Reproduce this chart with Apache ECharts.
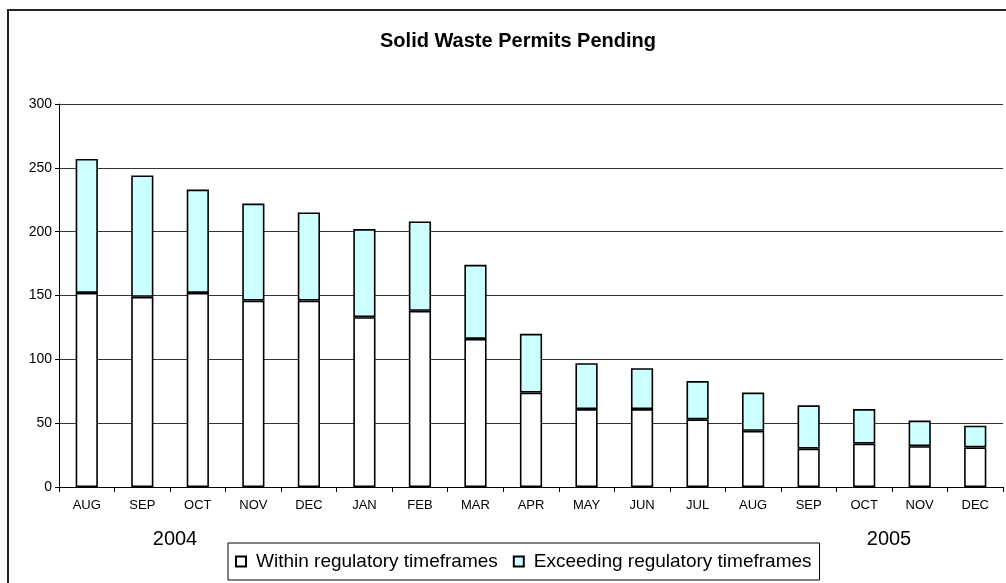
<!DOCTYPE html>
<html>
<head>
<meta charset="utf-8">
<script src="https://cdn.jsdelivr.net/npm/echarts@6/dist/echarts.min.js"></script>
<style>
  html, body { margin: 0; padding: 0; background: #fff; }
  #chart { width: 1006px; height: 583px; }
</style>
</head>
<body>
<div id="chart"></div>
<script>
// Monthly solid waste permits pending, Aug 2004 - Dec 2005
const months = ['AUG','SEP','OCT','NOV','DEC','JAN','FEB','MAR','APR','MAY','JUN','JUL','AUG','SEP','OCT','NOV','DEC'];
const withinTimeframes = [152,149,152,146,146,133,138,116,74,61,61,53,44,30,34,32,31];
const exceedingTimeframes = [105,95,81,76,69,69,70,58,46,36,32,30,30,34,27,20,17];
const yearLabels = ['2004','2005'];
const seriesNames = ['Within regulatory timeframes','Exceeding regulatory timeframes'];

const FONT = '"Liberation Sans", Arial, sans-serif';
const chart = echarts.init(document.getElementById('chart'), null, { renderer: 'canvas' });

const barBorder = { borderColor: '#000', borderWidth: 1.6 };

chart.setOption({
  animation: false,
  backgroundColor: '#fff',
  title: {
    text: 'Solid Waste Permits Pending',
    left: 513,
    top: 26,
    textAlign: 'center',
    textStyle: { fontFamily: FONT, fontSize: 20, fontWeight: 'bold', color: '#000' }
  },
  grid: { left: 59, top: 104, width: 944, height: 383, containLabel: false },
  legend: {
    left: 228,
    top: 543,
    orient: 'horizontal',
    padding: [9, 8, 9, 7],
    itemGap: 15,
    itemWidth: 10,
    itemHeight: 10,
    borderColor: '#000',
    borderWidth: 1,
    icon: 'rect',
    textStyle: { fontFamily: FONT, fontSize: 19, color: '#000', padding: [0, 0, 0, 5] },
    data: seriesNames
  },
  xAxis: {
    type: 'category',
    data: months,
    boundaryGap: true,
    axisLine: { lineStyle: { color: '#000', width: 1 } },
    axisTick: { show: true, alignWithLabel: false, length: 5, lineStyle: { color: '#000' } },
    axisLabel: { fontFamily: FONT, fontSize: 13, color: '#000', margin: 12 }
  },
  yAxis: {
    type: 'value',
    min: 0,
    max: 300,
    interval: 50,
    axisLine: { show: true, lineStyle: { color: '#000', width: 1 } },
    axisTick: { show: true, length: 4, lineStyle: { color: '#000' } },
    axisLabel: { fontFamily: FONT, fontSize: 14, color: '#000', margin: 7 },
    splitLine: { show: true, lineStyle: { color: '#333', width: 1 } }
  },
  series: [
    {
      name: seriesNames[0],
      type: 'bar',
      stack: 'permits',
      barWidth: '40%',
      data: withinTimeframes,
      itemStyle: Object.assign({ color: '#ffffff' }, barBorder)
    },
    {
      name: seriesNames[1],
      type: 'bar',
      stack: 'permits',
      barWidth: '40%',
      data: exceedingTimeframes,
      itemStyle: Object.assign({ color: '#ccffff' }, barBorder)
    }
  ],
  graphic: [
    {
      type: 'rect',
      shape: { x: 8, y: 10, width: 1010, height: 590 },
      style: { fill: 'none', stroke: '#222', lineWidth: 2 },
      silent: true
    },
    {
      type: 'text',
      x: 175, y: 539,
      style: { text: yearLabels[0], fontFamily: FONT, fontSize: 20, fill: '#000', textAlign: 'center', textVerticalAlign: 'middle' }
    },
    {
      type: 'text',
      x: 889, y: 539,
      style: { text: yearLabels[1], fontFamily: FONT, fontSize: 20, fill: '#000', textAlign: 'center', textVerticalAlign: 'middle' }
    }
  ]
});
</script>
</body>
</html>
